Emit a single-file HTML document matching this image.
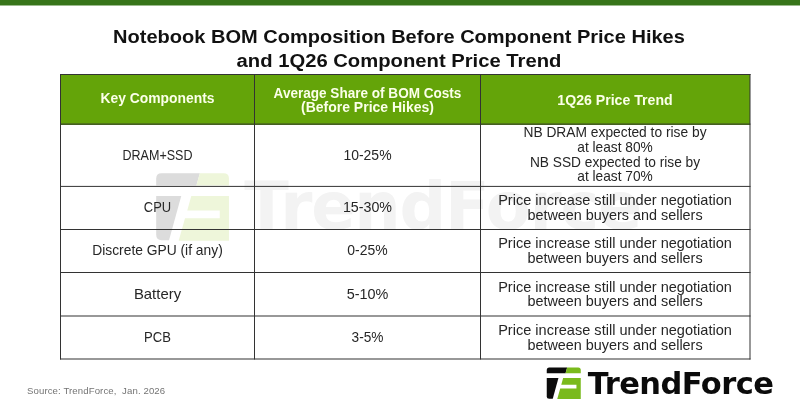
<!DOCTYPE html>
<html lang="en">
<head>
<meta charset="utf-8">
<title>Notebook BOM Composition Before Component Price Hikes and 1Q26 Component Price Trend</title>
<style>
html,body{margin:0;padding:0;background:#fff;}
body{width:800px;height:415px;position:relative;overflow:hidden;font-family:"Liberation Sans","Noto Sans CJK SC",sans-serif;color:#262626;}
.topbar{position:absolute;left:0;top:0;width:800px;height:6px;background:linear-gradient(to bottom,#37751a 0,#37751a 5px,#9cbb8e 5px,#9cbb8e 6px);}
h1{position:absolute;left:-1px;top:25px;width:800px;margin:0;text-align:center;font-weight:700;font-size:18.8px;line-height:24px;color:#111;white-space:nowrap;}
.l{display:block;transform-origin:50% 50%;white-space:nowrap;}
.wm,.logo,.grid{position:absolute;left:0;top:0;width:800px;height:415px;}
table{position:absolute;left:60px;top:74px;border-collapse:collapse;table-layout:fixed;width:690px;}
td,th{border:1px solid transparent;padding:0;text-align:center;vertical-align:top;font-weight:400;font-size:14.4px;line-height:17px;white-space:nowrap;overflow:visible;}
td.m{line-height:14.6px;}
th{background:#64a409;color:#fbffe9;font-weight:700;font-size:14px;line-height:14.4px;height:49px;}
.c1{width:194px}.c2{width:226px}.c3{width:269px}
.src{position:absolute;left:27px;top:385px;font-size:9.6px;line-height:12px;color:#747474;}
.src .l{white-space:pre;}
</style>
</head>
<body>
<div class="topbar"></div>
<h1><span class="l" style="transform:scaleX(1.066)">Notebook BOM Composition Before Component Price Hikes</span><span class="l" style="transform:scaleX(1.077)">and 1Q26 Component Price Trend</span></h1>

<svg class="wm" width="800" height="415" viewBox="0 0 800 415" aria-hidden="true">
<g transform="translate(156.2 173.2) scale(2.14)">
<path d="M2.5 0H20.4L18.8 5.8H0V2.5Q0 0 2.5 0Z" fill="#dcdcdc"/>
<path d="M20.4 0H31.5Q34 0 34 2.5V5.8H18.8Z" fill="#eef6da"/>
<path d="M0 10.7H11.7L6 31.3H2.5Q0 31.3 0 28.8Z" fill="#dcdcdc"/>
<path d="M16.4 10.7H34V31.6H10.5L13.46 21.1H29.7V17.4H14.51Z" fill="#eef6da"/>
<text x="41.1" y="26.3" font-family="'DejaVu Sans','Liberation Sans',sans-serif" font-weight="700" font-size="30.5" fill="#f3f3f3" textLength="186" lengthAdjust="spacing">TrendForce</text>
</g>
</svg>

<table>
<colgroup><col class="c1"><col class="c2"><col class="c3"></colgroup>
<thead>
<tr><th><div style="padding-top:16px"><span class="l" style="transform:scaleX(0.991)">Key Components</span></div></th><th><div style="padding-top:11px"><span class="l" style="transform:scaleX(0.968)">Average Share of BOM Costs</span><span class="l">(Before Price Hikes)</span></div></th><th><div style="padding-top:18px"><span class="l" style="transform:scaleX(1.009)">1Q26 Price Trend</span></div></th></tr>
</thead>
<tbody>
<tr style="height:62px"><td><div style="padding-top:22px"><span class="l" style="transform:scaleX(0.87)">DRAM+SSD</span></div></td><td><div style="padding-top:22px"><span class="l" style="transform:scaleX(0.97)">10-25%</span></div></td><td class="m"><div style="padding-top:0.4px"><span class="l" style="transform:scaleX(0.958)">NB DRAM expected to rise by</span><span class="l" style="transform:scaleX(0.953)">at least 80%</span><span class="l" style="transform:scaleX(0.954)">NB SSD expected to rise by</span><span class="l" style="transform:scaleX(0.953)">at least 70%</span></div></td></tr>
<tr style="height:43px"><td><div style="padding-top:12px"><span class="l" style="transform:scaleX(0.9)">CPU</span></div></td><td><div style="padding-top:12px"><span class="l" style="transform:scaleX(0.99)">15-30%</span></div></td><td class="m"><div style="padding-top:6px"><span class="l" style="transform:scaleX(1.011)">Price increase still under negotiation</span><span class="l">between buyers and sellers</span></div></td></tr>
<tr style="height:43px"><td><div style="padding-top:12px"><span class="l" style="transform:scaleX(0.96)">Discrete GPU (if any)</span></div></td><td><div style="padding-top:12px"><span class="l" style="transform:scaleX(0.97)">0-25%</span></div></td><td class="m"><div style="padding-top:6px"><span class="l" style="transform:scaleX(1.011)">Price increase still under negotiation</span><span class="l">between buyers and sellers</span></div></td></tr>
<tr style="height:43px"><td><div style="padding-top:12.5px"><span class="l" style="transform:scaleX(1.036)">Battery</span></div></td><td><div style="padding-top:12.5px"><span class="l">5-10%</span></div></td><td class="m"><div style="padding-top:6.5px"><span class="l" style="transform:scaleX(1.011)">Price increase still under negotiation</span><span class="l">between buyers and sellers</span></div></td></tr>
<tr style="height:43px"><td><div style="padding-top:13px"><span class="l" style="transform:scaleX(0.907)">PCB</span></div></td><td><div style="padding-top:13px"><span class="l" style="transform:scaleX(0.95)">3-5%</span></div></td><td class="m"><div style="padding-top:7px"><span class="l" style="transform:scaleX(1.011)">Price increase still under negotiation</span><span class="l">between buyers and sellers</span></div></td></tr>
</tbody>
</table>

<svg class="grid" width="800" height="415" viewBox="0 0 800 415" aria-hidden="true" shape-rendering="geometricPrecision">
<g fill="#333">
<rect x="60" y="74" width="690.5" height="1"/>
<rect x="60" y="123.6" width="690.5" height="1"/>
<rect x="60" y="185.9" width="690.5" height="1"/>
<rect x="60" y="229" width="690.5" height="1"/>
<rect x="60" y="272" width="690.5" height="1"/>
<rect x="60" y="315.5" width="690.5" height="1"/>
<rect x="60" y="358.5" width="690.5" height="1"/>
<rect x="60" y="74" width="1" height="285.5"/>
<rect x="254" y="74" width="1" height="285.5"/>
<rect x="480" y="74" width="1" height="285.5"/>
<rect x="749.5" y="74" width="1" height="285.5"/>
</g>
</svg>

<svg class="logo" width="800" height="415" viewBox="0 0 800 415" role="img" aria-label="TrendForce logo">
<g transform="translate(546.75 367.4)">
<path d="M2.5 0H20.4L18.8 5.8H0V2.5Q0 0 2.5 0Z" fill="#0b0b0b"/>
<path d="M20.4 0H31.5Q34 0 34 2.5V5.8H18.8Z" fill="#7aba1c"/>
<path d="M0 10.7H11.7L6 31.3H2.5Q0 31.3 0 28.8Z" fill="#0b0b0b"/>
<path d="M16.4 10.7H34V31.6H10.5L13.46 21.1H29.7V17.4H14.51Z" fill="#7aba1c"/>
<text x="41.1" y="26.3" font-family="'DejaVu Sans','Liberation Sans',sans-serif" font-weight="700" font-size="30.5" fill="#0b0b0b" textLength="186" lengthAdjust="spacing">TrendForce</text>
</g>
</svg>

<div class="src"><span class="l" style="letter-spacing:0.11px">Source: TrendForce,  Jan. 2026</span></div>
</body>
</html>
